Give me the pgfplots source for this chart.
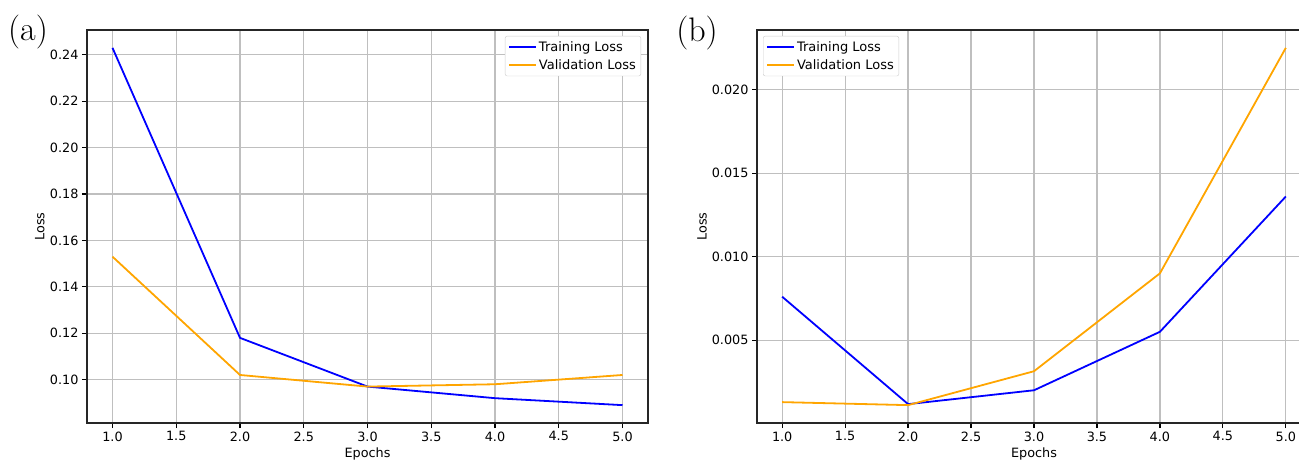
\documentclass[border=0pt]{standalone}
\usepackage{fontspec}
\usepackage{pgfplots}
\pgfplotsset{compat=1.18}
\newfontfamily\dejavu{DejaVu Sans}
\definecolor{mplorange}{RGB}{255,165,0}
\definecolor{mplblue}{RGB}{0,0,255}
\pgfplotsset{
  myax/.style={
    scale only axis, height=393pt, xmin=0.8, xmax=5.2,
    xtick={1.0,1.5,2.0,2.5,3.0,3.5,4.0,4.5,5.0},
    xticklabel style={/pgf/number format/.cd, fixed, fixed zerofill, precision=1},
    grid=major,
    grid style={color=black!25, line width=1.2pt},
    axis line style={line width=1.2pt, black!85},
    tick align=outside, tick pos=left, major tick length=5pt,
    tick style={line width=1.2pt, black},
    /pgf/number format/assume math mode=true,
    ticklabel style={font=\dejavu\fontsize{12.8}{14}\selectfont},
    label style={font=\dejavu\fontsize{12.8}{14}\selectfont},
    scaled y ticks=false,
    xlabel={Epochs}, ylabel={Loss},
    xlabel style={at={(axis description cs:0.5,-0.078)}, anchor=center},
    legend style={font=\dejavu\fontsize{13}{15}\selectfont, draw=black!20, rounded corners=2pt,
      inner xsep=3pt, inner ysep=3pt, row sep=3pt, cells={anchor=west}},
    legend image code/.code={\draw[#1] (0pt,0pt) -- (27pt,0pt);},
    every axis plot/.append style={line width=1.8pt},
  }
}
\begin{document}
\begin{tikzpicture}
\useasboundingbox (0,0) rectangle (1299pt,461pt);
\begin{scope}
\clip (0,0) rectangle (1299pt,461pt);
\begin{axis}[myax, at={(87pt,38pt)}, anchor=south west, width=561pt,
  ymin=0.0813, ymax=0.2507,
  ytick={0.10,0.12,0.14,0.16,0.18,0.20,0.22,0.24},
  yticklabel style={/pgf/number format/.cd, fixed, fixed zerofill, precision=2},
  ylabel style={at={(axis description cs:-0.084,0.5)}, anchor=center},
  legend style={at={(1,1)}, anchor=north east, xshift=-7pt, yshift=-6pt}]
\addplot[mplblue] coordinates {(1,0.243) (2,0.118) (3,0.097) (4,0.092) (5,0.089)};
\addlegendentry{Training Loss}
\addplot[mplorange] coordinates {(1,0.153) (2,0.102) (3,0.097) (4,0.098) (5,0.102)};
\addlegendentry{Validation Loss}
\end{axis}
\begin{axis}[myax, at={(757pt,38pt)}, anchor=south west, width=554pt,
  ymin=0.00004, ymax=0.02357,
  ytick={0.005,0.010,0.015,0.020},
  yticklabel style={/pgf/number format/.cd, fixed, fixed zerofill, precision=3},
  ylabel style={at={(axis description cs:-0.099,0.5)}, anchor=center},
  legend style={at={(0,1)}, anchor=north west, xshift=6pt, yshift=-6pt}]
\addplot[mplblue] coordinates {(1,0.0076) (2,0.00117) (3,0.0020) (4,0.0055) (5,0.0136)};
\addlegendentry{Training Loss}
\addplot[mplorange] coordinates {(1,0.00129) (2,0.00111) (3,0.00314) (4,0.0090) (5,0.0225)};
\addlegendentry{Validation Loss}
\end{axis}
\end{scope}
\node at (28pt,429pt) {\fontsize{34}{38}\selectfont (a)};
\node at (697pt,428pt) {\fontsize{34}{38}\selectfont (b)};
\end{tikzpicture}
\end{document}
